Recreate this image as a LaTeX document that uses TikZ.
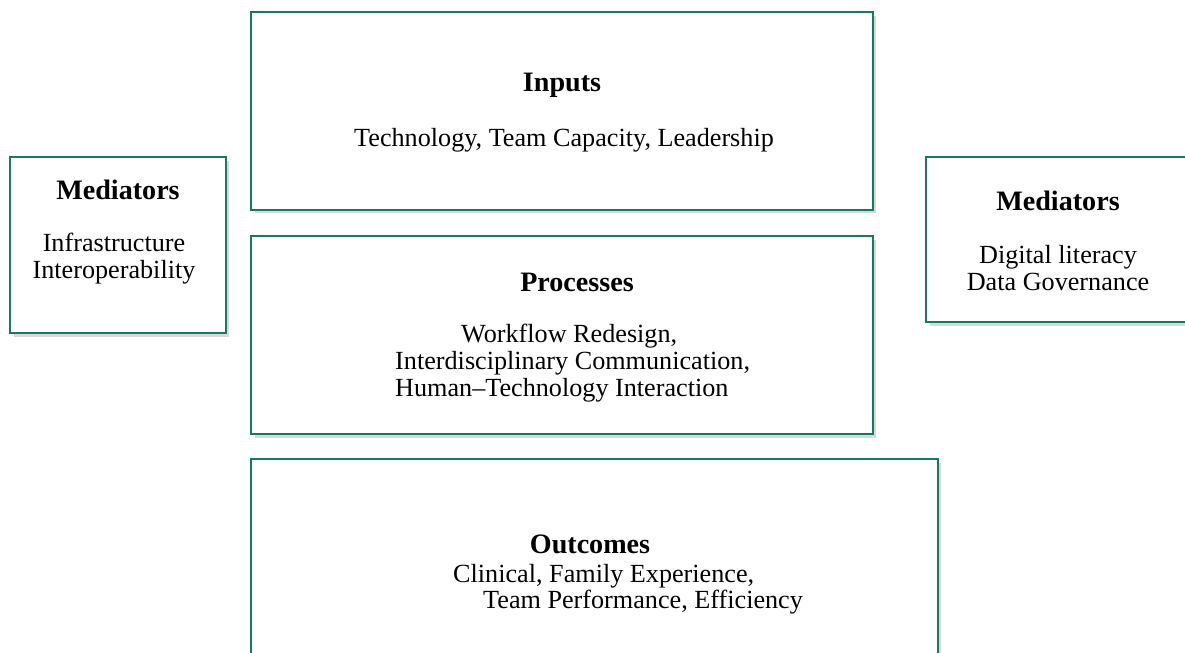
\documentclass[tikz,border=0pt]{standalone}
\usepackage{fontspec}
\setmainfont{Liberation Serif}
\usepackage{xcolor}
\usetikzlibrary{shadows,positioning}
\definecolor{boxgreen}{RGB}{24,120,98}
\newcommand{\bodyfont}{\fontsize{14.9}{15.3}\selectfont}

\begin{document}
\begin{tikzpicture}[x=0.02cm,y=-0.02cm,font=\bodyfont]
  \tikzstyle{box}=[draw=boxgreen,line width=1.2pt,fill=white,rectangle,inner sep=0pt,
    drop shadow={shadow xshift=2pt,shadow yshift=-2pt,opacity=0.25,fill=black!60}]
  \tikzstyle{head}=[font=\fontsize{16}{17}\selectfont\bfseries]
  \tikzstyle{txt}=[align=center]

  \path[use as bounding box,clip] (0,0) rectangle (1185,652);

  % the column of blocks in the middle
  \node [box,minimum width=12.44cm,minimum height=3.96cm] (inputs) at (562,111) {};
  \node [head] (inputsTitle) at (562,85) {Inputs};
  \node [txt] (inputsTxt) at (564,140) {Technology, Team Capacity, Leadership};

  \node [box,minimum width=12.44cm,minimum height=3.96cm] (processes) at (562,335) {};
  \node [head] (processesTitle) at (577,282) {Processes};
  \node [align=left,anchor=west] (processesTxt) at (389,363)
    {\hspace*{1.32cm}Workflow Redesign,\\Interdisciplinary Communication,\\Human--Technology Interaction};

  \node [box,minimum width=13.74cm,minimum height=4.82cm] (outcomes) at (594.5,579.5) {};
  \node [head] (outcomesTitle) at (590,544) {Outcomes};
  \node [align=left,anchor=west] (outcomesTxt) at (447,589)
    {Clinical, Family Experience,\\[-0.6pt]\hspace*{0.6cm}Team Performance, Efficiency};

  % mediators on both sides
  \node [box,minimum width=4.32cm,minimum height=3.52cm] (medLeft) at (118,245) {};
  \node [head] (medLeftTitle) at (118,190) {Mediators};
  \node [txt] (medLeftTxt) at (114,258.5) {Infrastructure\\Interoperability};

  \node [box,minimum width=5.6cm,minimum height=3.3cm] (medRight) at (1066,239.5) {};
  \node [head] (medRightTitle) at (1058,201) {Mediators};
  \node [txt] (medRightTxt) at (1058,268) {Digital literacy\\Data Governance};

\end{tikzpicture}
\end{document}
